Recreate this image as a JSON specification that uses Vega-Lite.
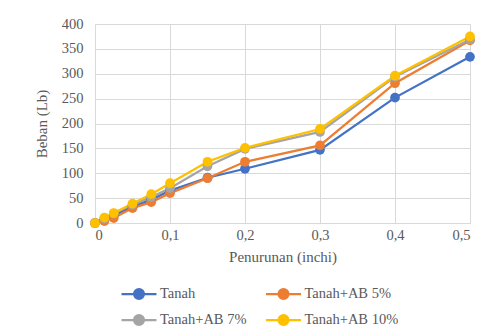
{
  "$schema": "https://vega.github.io/schema/vega-lite/v6.json",
  "width": 375,
  "height": 199,
  "autosize": "none",
  "padding": {"left": 95, "top": 24, "right": 22, "bottom": 107},
  "background": "white",
  "data": {
    "values": [
      {"x": 0, "y": 0, "s": "Tanah"},
      {"x": 0.0125, "y": 7, "s": "Tanah"},
      {"x": 0.025, "y": 15, "s": "Tanah"},
      {"x": 0.05, "y": 33, "s": "Tanah"},
      {"x": 0.075, "y": 47, "s": "Tanah"},
      {"x": 0.1, "y": 65, "s": "Tanah"},
      {"x": 0.15, "y": 91, "s": "Tanah"},
      {"x": 0.2, "y": 109, "s": "Tanah"},
      {"x": 0.3, "y": 147, "s": "Tanah"},
      {"x": 0.4, "y": 252, "s": "Tanah"},
      {"x": 0.5, "y": 334, "s": "Tanah"},
      {"x": 0, "y": 0, "s": "Tanah+AB 5%"},
      {"x": 0.0125, "y": 4, "s": "Tanah+AB 5%"},
      {"x": 0.025, "y": 10, "s": "Tanah+AB 5%"},
      {"x": 0.05, "y": 30, "s": "Tanah+AB 5%"},
      {"x": 0.075, "y": 42, "s": "Tanah+AB 5%"},
      {"x": 0.1, "y": 60, "s": "Tanah+AB 5%"},
      {"x": 0.15, "y": 90, "s": "Tanah+AB 5%"},
      {"x": 0.2, "y": 123, "s": "Tanah+AB 5%"},
      {"x": 0.3, "y": 156, "s": "Tanah+AB 5%"},
      {"x": 0.4, "y": 281, "s": "Tanah+AB 5%"},
      {"x": 0.5, "y": 367, "s": "Tanah+AB 5%"},
      {"x": 0, "y": 0, "s": "Tanah+AB 7%"},
      {"x": 0.0125, "y": 9, "s": "Tanah+AB 7%"},
      {"x": 0.025, "y": 19, "s": "Tanah+AB 7%"},
      {"x": 0.05, "y": 37, "s": "Tanah+AB 7%"},
      {"x": 0.075, "y": 52, "s": "Tanah+AB 7%"},
      {"x": 0.1, "y": 70, "s": "Tanah+AB 7%"},
      {"x": 0.15, "y": 114, "s": "Tanah+AB 7%"},
      {"x": 0.2, "y": 149, "s": "Tanah+AB 7%"},
      {"x": 0.3, "y": 183, "s": "Tanah+AB 7%"},
      {"x": 0.4, "y": 294, "s": "Tanah+AB 7%"},
      {"x": 0.5, "y": 369, "s": "Tanah+AB 7%"},
      {"x": 0, "y": 0, "s": "Tanah+AB 10%"},
      {"x": 0.0125, "y": 11, "s": "Tanah+AB 10%"},
      {"x": 0.025, "y": 20, "s": "Tanah+AB 10%"},
      {"x": 0.05, "y": 39, "s": "Tanah+AB 10%"},
      {"x": 0.075, "y": 58, "s": "Tanah+AB 10%"},
      {"x": 0.1, "y": 80, "s": "Tanah+AB 10%"},
      {"x": 0.15, "y": 123, "s": "Tanah+AB 10%"},
      {"x": 0.2, "y": 151, "s": "Tanah+AB 10%"},
      {"x": 0.3, "y": 189, "s": "Tanah+AB 10%"},
      {"x": 0.4, "y": 296, "s": "Tanah+AB 10%"},
      {"x": 0.5, "y": 375, "s": "Tanah+AB 10%"}
    ]
  },
  "encoding": {
    "x": {
      "field": "x", "type": "quantitative",
      "scale": {"domain": [0, 0.5], "nice": false},
      "axis": {
        "title": "Penurunan (inchi)",
        "values": [0, 0.1, 0.2, 0.3, 0.4, 0.5],
        "format": ".1~f",
        "labelExpr": "replace(datum.label, '.', ',')",
        "ticks": false,
        "labelPadding": 5,
        "titlePadding": 8
      }
    },
    "y": {
      "field": "y", "type": "quantitative",
      "scale": {"domain": [0, 400], "nice": false},
      "axis": {
        "title": "Beban (Lb)",
        "values": [0, 50, 100, 150, 200, 250, 300, 350, 400],
        "ticks": false,
        "labelPadding": 12,
        "titlePadding": 12
      }
    },
    "color": {
      "field": "s", "type": "nominal",
      "scale": {
        "domain": ["Tanah", "Tanah+AB 5%", "Tanah+AB 7%", "Tanah+AB 10%"],
        "range": ["#4472C4", "#ED7D31", "#A5A5A5", "#FFC000"]
      },
      "legend": {
        "title": null,
        "orient": "none",
        "legendX": 31.5,
        "legendY": 257.5,
        "direction": "horizontal",
        "columns": 2,
        "columnPadding": 14.5,
        "rowPadding": 4,
        "symbolType": "M-1.59,0H1.59M-0.45,0A0.45,0.45,0,1,0,0.45,0A0.45,0.45,0,1,0,-0.45,0",
        "symbolSize": 484,
        "symbolStrokeWidth": 2.25,
        "labelOffset": 8.5,
        "labelFont": "Times New Roman, Liberation Serif, serif",
        "labelFontSize": 14.5,
        "labelColor": "#595959",
        "encode": {
          "symbols": {"update": {"fill": {"scale": "color", "field": "value"}, "stroke": {"scale": "color", "field": "value"}, "opacity": {"value": 1}}}
        }
      }
    },
    "order": {"field": "x", "type": "quantitative"}
  },
  "layer": [
    {"mark": {"type": "line", "strokeWidth": 2.25}},
    {"mark": {"type": "point", "filled": true, "size": 95, "opacity": 1}}
  ],
  "config": {
    "font": "Times New Roman, Liberation Serif, serif",
    "view": {"stroke": null},
    "axis": {
      "labelFont": "Times New Roman, Liberation Serif, serif",
      "labelFontSize": 14.5,
      "labelColor": "#595959",
      "titleFont": "Times New Roman, Liberation Serif, serif",
      "titleFontSize": 15,
      "titleFontWeight": "normal",
      "titleColor": "#595959",
      "gridColor": "#D9D9D9",
      "gridWidth": 1,
      "domainColor": "#D9D9D9",
      "domainWidth": 1
    }
  }
}
